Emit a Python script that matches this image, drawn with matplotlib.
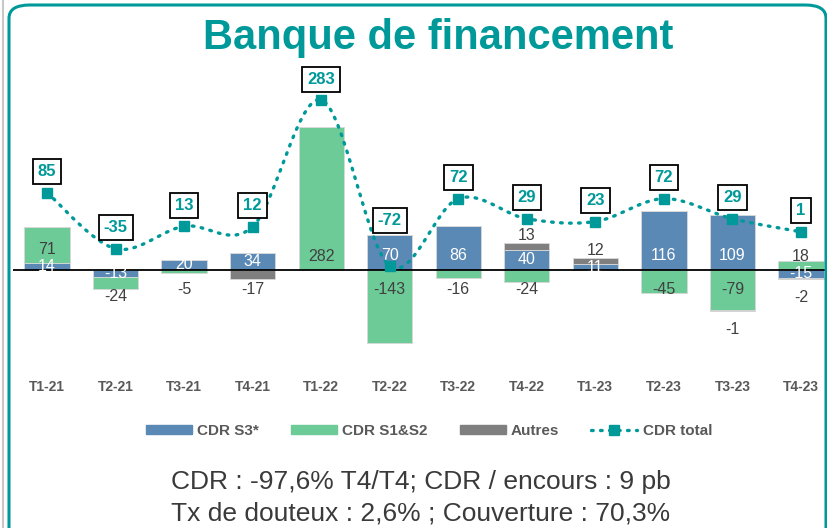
import numpy as np
import matplotlib
matplotlib.use("Agg")
import matplotlib.pyplot as plt
from matplotlib.patches import FancyBboxPatch, Patch
from matplotlib.lines import Line2D

plt.rcParams['font.family'] = ['Liberation Sans', 'DejaVu Sans']

# ---- data ----
categories = ["T1-21", "T2-21", "T3-21", "T4-21", "T1-22", "T2-22",
              "T3-22", "T4-22", "T1-23", "T2-23", "T3-23", "T4-23"]
cdr_s3 = [14, -13, 20, 34, 0, 70, 86, 40, 11, 116, 109, -15]
cdr_s1s2 = [71, -24, -5, 0, 282, -143, -16, -24, 0, -45, -79, 18]
autres = [0, 0, 0, -17, 0, 0, 0, 13, 12, 0, -1, -2]
cdr_total = [85, -35, 13, 12, 283, -72, 72, 29, 23, 72, 29, 1]

title = "Banque de financement"
footer1 = "CDR : -97,6% T4/T4; CDR / encours : 9 pb"
footer2 = "Tx de douteux : 2,6% ; Couverture : 70,3%"

# ---- style ----
C_BLUE = "#5B89B6"
C_GREEN = "#6DCB97"
C_GRAY = "#7F7F7F"
C_TEAL = "#009999"
C_TXT = "#404040"

W, H, DPI = 828, 528, 100
fig = plt.figure(figsize=(W / DPI, H / DPI), dpi=DPI)

def fx(px):
    return px / W

def fy(py):
    return 1 - py / H

# frame
frame = FancyBboxPatch((fx(9), fy(545)), fx(817), (545 - 5) / H,
                       boxstyle="round,pad=0,rounding_size=0.025",
                       transform=fig.transFigure, fill=False,
                       edgecolor=C_TEAL, linewidth=2.2, clip_on=False)
fig.patches.append(frame)
fig.add_artist(Line2D([fx(3), fx(3)], [0, 1], color="#C8C8C8", lw=1.5,
                      transform=fig.transFigure))

# title
fig.text(fx(438), fy(49), title, ha="center", va="baseline", fontsize=30,
         fontweight="bold", color=C_TEAL)

# axes
ax_left, ax_right, ax_top, ax_bot = 12.7, 835.3, 70, 360
ax = fig.add_axes([fx(ax_left), fy(ax_bot), (ax_right - ax_left) / W,
                   (ax_bot - ax_top) / H])
ax.set_xlim(-0.5, len(categories) - 0.5)
scale = 0.507  # px per unit
base_px = 270
ax.set_ylim(-(ax_bot - base_px) / scale, (base_px - ax_top) / scale)
ax.axis("off")

x = np.arange(len(categories))
bw = 0.66

series = [(cdr_s3, C_BLUE), (cdr_s1s2, C_GREEN), (autres, C_GRAY)]
pos_base = np.zeros(len(x))
neg_base = np.zeros(len(x))
for si, (vals, col) in enumerate(series):
    vals = np.array(vals, dtype=float)
    bottoms = np.where(vals >= 0, pos_base, neg_base)
    ax.bar(x, vals, bw, bottom=bottoms, color=col, edgecolor="#D9D9D9",
           linewidth=0.6, zorder=2)
    for i, v in enumerate(vals):
        if v == 0:
            continue
        b = bottoms[i]
        if si == 0:
            yc = np.sign(v) * min(abs(v) / 2, 29)
            ax.text(x[i], b + yc, f"{int(v)}", ha="center", va="center",
                    fontsize=11.5, color="white", zorder=4)
        else:
            off = 10 if v > 0 else -14
            ax.annotate(f"{int(v)}", (x[i], b), xytext=(0, off),
                        textcoords="offset points", ha="center",
                        va="center", fontsize=11.5, color=C_TXT, zorder=4)
    pos_base = pos_base + np.where(vals > 0, vals, 0)
    neg_base = neg_base + np.where(vals < 0, vals, 0)

ax.axhline(0, color="black", lw=1.3, zorder=3)

# category labels
for i, c in enumerate(categories):
    ax.text(x[i], -(387 - base_px) / scale, c, ha="center", va="center",
            fontsize=10, fontweight="bold", color="#595959", clip_on=False)

# secondary axis for total
ax2 = ax.twinx()
ax2.set_position(ax.get_position())
a_px, b_px = 232.3, 0.4676
ax2.set_ylim((a_px - ax_bot) / b_px, (a_px - ax_top) / b_px)
ax2.axis("off")

# Catmull-Rom smoothing of the line (display only)
yt = np.array(cdr_total, dtype=float)
px = np.concatenate([[x[0]], x, [x[-1]]]).astype(float)
py = np.concatenate([[yt[0]], yt, [yt[-1]]])
sx, sy = [], []
for k in range(1, len(px) - 2):
    p0, p1, p2, p3 = (np.array([px[j], py[j]]) for j in (k - 1, k, k + 1, k + 2))
    c1 = p1 + (p2 - p0) / 6
    c2 = p2 - (p3 - p1) / 6
    t = np.linspace(0, 1, 30)[:, None]
    pts = ((1 - t) ** 3) * p1 + 3 * ((1 - t) ** 2) * t * c1 + 3 * (1 - t) * t ** 2 * c2 + t ** 3 * p2
    sx.extend(pts[:, 0]); sy.extend(pts[:, 1])
ax2.plot(sx, sy, color=C_TEAL, lw=2.4, linestyle=(0, (0.5, 2.2)),
         dash_capstyle="round", zorder=5)
ax2.plot(x, yt, linestyle="none", marker="s", markersize=7, color=C_TEAL,
         zorder=6)
# label box offsets (points); the box above the lowest point is lifted clear of the bar label
label_offsets = [15] * len(yt)
label_offsets[int(np.argmin(yt))] = 33
for i, v in enumerate(yt):
    ax2.annotate(f"{int(v)}", (x[i], v), xytext=(0, label_offsets[i]),
                 textcoords="offset points", ha="center", va="center",
                 fontsize=12, fontweight="bold", color=C_TEAL, zorder=7,
                 bbox=dict(boxstyle="square,pad=0.3", fc="white",
                           ec="black", lw=1.3))

# legend
handles = [Patch(color=C_BLUE, label="CDR S3*"),
           Patch(color=C_GREEN, label="CDR S1&S2"),
           Patch(color=C_GRAY, label="Autres"),
           Line2D([], [], color=C_TEAL, lw=2.4, linestyle=(0, (0.5, 2.2)),
                  dash_capstyle="round", marker="s", markersize=7,
                  label="CDR total")]
leg = fig.legend(handles=handles, loc="center", ncol=4,
                 bbox_to_anchor=(fx(429), fy(431)), frameon=False,
                 fontsize=11, handlelength=3.0, handleheight=0.52,
                 handletextpad=0.35, columnspacing=2.1)
for t in leg.get_texts():
    t.set_color("#595959")
    t.set_fontweight("bold")

fig.text(fx(421), fy(482), footer1, ha="center", va="center", fontsize=19,
         color="#3A3A3A")
fig.text(fx(421), fy(513), footer2, ha="center", va="center", fontsize=19,
         color="#3A3A3A")

fig.savefig("out.png", dpi=DPI)
